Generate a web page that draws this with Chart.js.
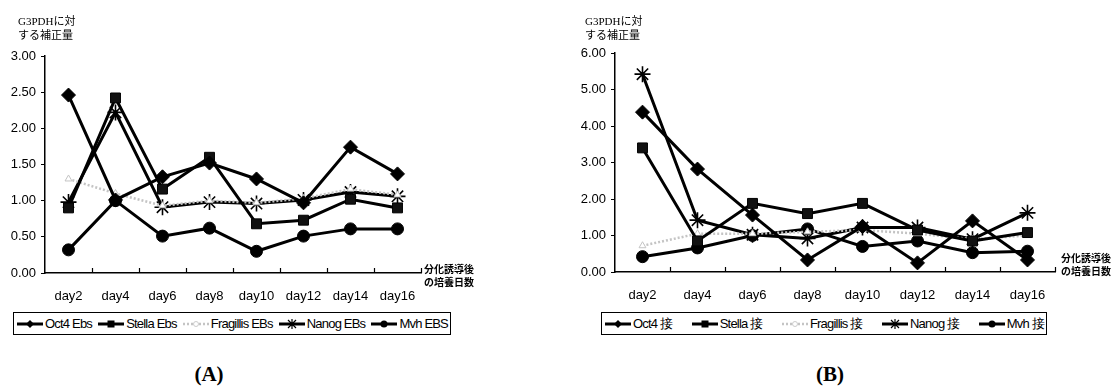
<!DOCTYPE html>
<html>
<head>
<meta charset="utf-8">
<script src="https://cdn.jsdelivr.net/npm/chart.js@4.4.0/dist/chart.umd.min.js"></script>
<style>
  body { margin: 0; background: #fff; width: 1115px; height: 389px; position: relative; overflow: hidden; font-family: 'Liberation Sans', Arial, sans-serif; }
  .wrap { position: absolute; top: 0; }
  .legend { position: absolute; border: 1px solid #000; height: 23px; box-sizing: border-box; display: flex; align-items: center; justify-content: space-between; padding: 0 2px; font-size: 13px; color: #000; letter-spacing: -0.8px; white-space: nowrap; }
  .legend span { display: inline-flex; align-items: center; }
  .legend svg { margin-right: 1px; }
  .panel { position: absolute; top: 362px; font-family: 'Liberation Serif', serif; font-weight: bold; font-size: 21px; transform: translateX(-50%); }
</style>
</head>
<body>
<div class="wrap" style="left:0"><canvas id="chartA" width="560" height="310"></canvas></div>
<div class="wrap" style="left:560px"><canvas id="chartB" width="555" height="310"></canvas></div>
<div class="legend" id="legendA" style="left:13px; top:312px; width:438px"></div>
<div class="legend" id="legendB" style="left:601px; top:312px; width:446px"></div>
<div class="panel" style="left:209px">(A)</div>
<div class="panel" style="left:830px">(B)</div>
<script>
const days = ['day2', 'day4', 'day6', 'day8', 'day10', 'day12', 'day14', 'day16'];

// (A) EBs
const namesA = ['Oct4 Ebs', 'Stella Ebs', 'Fragillis EBs', 'Nanog EBs', 'Mvh EBS'];
const oct4A = [2.46, 1.01, 1.33, 1.52, 1.30, 0.97, 1.74, 1.37];
const stellaA = [0.90, 2.42, 1.16, 1.60, 0.68, 0.73, 1.02, 0.90];
const fragilisA = [1.30, 1.10, 0.93, 1.00, 0.97, 1.03, 1.16, 1.08];
const nanogA = [0.98, 2.22, 0.91, 0.98, 0.96, 1.01, 1.12, 1.06];
const mvhA = [0.32, 1.00, 0.51, 0.62, 0.30, 0.51, 0.61, 0.61];

// (B) 接
const namesB = ['Oct4 接', 'Stella 接', 'Fragillis 接', 'Nanog 接', 'Mvh 接'];
const oct4B = [4.38, 2.82, 1.56, 0.33, 1.25, 0.25, 1.40, 0.33];
const stellaB = [3.40, 0.85, 1.88, 1.60, 1.88, 1.15, 0.85, 1.08];
const fragilisB = [0.72, 1.05, 1.05, 1.10, 1.15, 1.05, 0.90, 1.00];
const nanogB = [5.42, 1.42, 1.02, 0.92, 1.22, 1.22, 0.90, 1.62];
const mvhB = [0.42, 0.66, 1.00, 1.18, 0.70, 0.85, 0.53, 0.57];

const yTitle = ['G3PDHに対', 'する補正量'];
const xTitle = ['分化誘導後', 'の培養日数'];

const FONT = "'Liberation Sans', Arial, sans-serif";
const CJK = "'Noto Sans CJK JP', sans-serif";
const H = 310;

// one style per series, same order as the names
const styles = [
  { color: '#000', point: 'rectRot', r: 7, fill: '#000', width: 3, dash: [] },
  { color: '#000', point: 'rect', r: 7, fill: '#111', width: 3, dash: [] },
  { color: '#c4c4c4', point: 'triangle', r: 4, fill: '#fff', width: 2.5, dash: [2, 2] },
  { color: '#000', point: 'star', r: 8, fill: '#000', width: 3, dash: [] },
  { color: '#000', point: 'circle', r: 6, fill: '#000', width: 3, dash: [] },
];

function makeSets(names, series) {
  return series.map((data, i) => {
    const s = styles[i];
    return {
      label: names[i],
      data,
      borderColor: s.color,
      borderWidth: s.width,
      borderDash: s.dash,
      pointStyle: s.point,
      pointRadius: s.r,
      pointBackgroundColor: s.fill,
      pointBorderColor: s.color,
      pointBorderWidth: s.point === 'star' ? 1.6 : 1,
      tension: 0,
      fill: false,
    };
  });
}

// inward x ticks + axis notes
const axisNotes = {
  id: 'axisNotes',
  afterDraw(chart, args, opts) {
    const { ctx, chartArea: a } = chart;
    const n = chart.data.labels.length;
    const w = (a.right - a.left) / n;
    ctx.save();
    ctx.strokeStyle = '#000';
    ctx.lineWidth = 1.2;
    for (let i = 1; i <= n; i++) {
      const x = Math.round(a.left + i * w) + 0.5;
      ctx.beginPath();
      ctx.moveTo(x, a.bottom);
      ctx.lineTo(x, a.bottom - 5);
      ctx.stroke();
    }
    ctx.fillStyle = '#000';
    ctx.textBaseline = 'middle';
    ctx.font = "11px 'Liberation Serif', " + CJK;
    yTitle.forEach((t, i) => ctx.fillText(t, opts.yx, opts.yy + i * 14));
    ctx.font = "bold 10px " + CJK;
    xTitle.forEach((t, i) => ctx.fillText(t, a.right + opts.xdx, opts.xy + i * 13));
    ctx.restore();
  },
};

function build(id, names, series, max, step, cfg) {
  return new Chart(document.getElementById(id), {
    type: 'line',
    data: { labels: days, datasets: makeSets(names, series) },
    options: {
      responsive: false,
      animation: false,
      layout: { padding: { top: cfg.top, right: cfg.right, left: 0, bottom: 0 } },
      plugins: {
        legend: { display: false },
        tooltip: { enabled: false },
        axisNotes: cfg.notes,
      },
      scales: {
        x: {
          offset: true,
          grid: { display: false, drawTicks: false },
          border: { display: true, color: '#000', width: 1.5 },
          ticks: { color: '#000', padding: 16, font: { family: FONT, size: 13 }, maxRotation: 0 },
          afterFit: s => { s.height = H - cfg.bottom; },
        },
        y: {
          min: 0,
          max,
          ticks: { stepSize: step, color: '#000', padding: 5, font: { family: FONT, size: 13 }, callback: v => v.toFixed(2) },
          grid: { drawOnChartArea: false, drawTicks: true, tickLength: 4, color: '#000' },
          border: { display: true, color: '#000', width: 1.5 },
          afterFit: s => { s.width = cfg.left; },
        },
      },
    },
    plugins: [axisNotes],
  });
}

build('chartA', namesA, [oct4A, stellaA, fragilisA, nanogA, mvhA], 3, 0.5,
  { top: 56, right: 139, left: 45, bottom: 273, notes: { yx: 18, yy: 22, xdx: 3, xy: 269 } });
build('chartB', namesB, [oct4B, stellaB, fragilisB, nanogB, mvhB], 6, 1,
  { top: 53, right: 60, left: 55, bottom: 272, notes: { yx: 25, yy: 22, xdx: 6, xy: 258 } });

// legends
function sample(s) {
  let m = '';
  const c = 14, y = 6;
  if (s.point === 'rectRot') m = `<polygon points="${c},${y - 4} ${c + 4},${y} ${c},${y + 4} ${c - 4},${y}" fill="#000"/>`;
  else if (s.point === 'rect') m = `<rect x="${c - 3.5}" y="${y - 3.5}" width="7" height="7" fill="#000"/>`;
  else if (s.point === 'circle') m = `<circle cx="${c}" cy="${y}" r="3.5" fill="#000"/>`;
  else if (s.point === 'star') m = `<path d="M${c - 4} ${y - 4}L${c + 4} ${y + 4}M${c + 4} ${y - 4}L${c - 4} ${y + 4}M${c} ${y - 5}V${y + 5}" stroke="#000" stroke-width="1.2"/>`;
  else m = `<circle cx="${c}" cy="${y}" r="2.5" fill="#fff" stroke="#ccc"/>`;
  const dash = s.dash.length ? ` stroke-dasharray="${s.dash.join(' ')}"` : '';
  return `<svg width="28" height="12"><line x1="1" y1="${y}" x2="27" y2="${y}" stroke="${s.color}" stroke-width="${s.width}"${dash}/>${m}</svg>`;
}
function legend(id, names) {
  document.getElementById(id).innerHTML = names.map((n, i) => `<span>${sample(styles[i])}${n}</span>`).join('');
}
legend('legendA', namesA);
legend('legendB', namesB);
</script>
</body>
</html>
